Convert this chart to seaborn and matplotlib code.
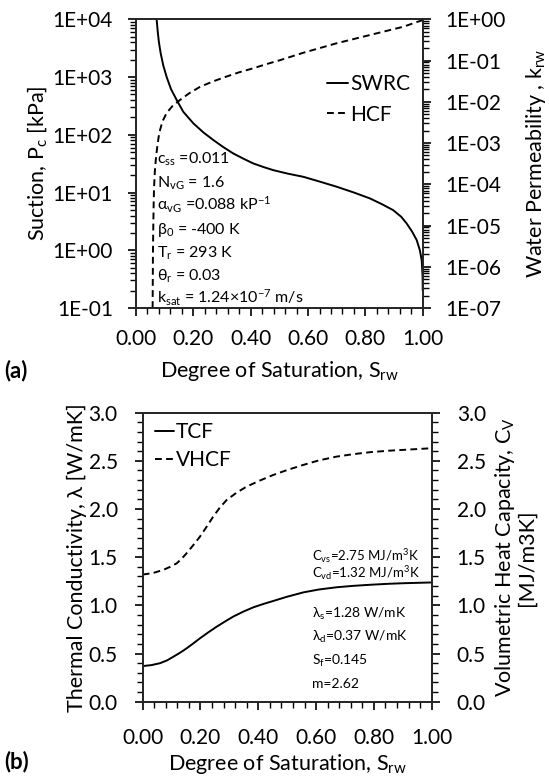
import matplotlib
matplotlib.use("Agg")
import matplotlib.pyplot as plt
import seaborn as sns
import pandas as pd
from matplotlib.ticker import (LogLocator, FuncFormatter, MultipleLocator,
                               FormatStrFormatter, NullFormatter)
from matplotlib.lines import Line2D

# ---- (a) retention curve and hydraulic conductivity ----
swrc_s = [0.072, 0.076, 0.080, 0.086, 0.095, 0.107, 0.122, 0.142, 0.165,
          0.200, 0.235, 0.270, 0.305, 0.339, 0.375, 0.409, 0.445, 0.479,
          0.530, 0.584, 0.640, 0.700, 0.760, 0.816, 0.860, 0.897, 0.925,
          0.944, 0.963, 0.979, 0.990, 0.9965, 0.9995, 1.0]
swrc_pc = [1.0e4, 6000, 4000, 2600, 1600, 1000, 620, 400, 250,
           158, 110, 81, 61, 47.6, 38.5, 31.9, 27.6, 24.4,
           21.2, 18.7, 15.5, 12.6, 10.0, 7.9, 6.2, 4.95, 3.8,
           2.91, 2.1, 1.50, 1.0, 0.67, 0.35, 0.2]

hcf_s = [0.058, 0.059, 0.060, 0.0615, 0.063, 0.066, 0.070, 0.075, 0.081,
         0.092, 0.107, 0.128, 0.153, 0.185, 0.223, 0.270, 0.316, 0.360,
         0.409, 0.455, 0.502, 0.584, 0.700, 0.816, 0.932, 1.0]
hcf_kr = [1.0e-7, 1.5e-6, 6.6e-6, 3.0e-5, 8.5e-5, 2.2e-4, 4.6e-4, 9.0e-4, 1.74e-3,
          3.3e-3, 5.4e-3, 8.0e-3, 1.1e-2, 1.6e-2, 2.3e-2, 3.15e-2, 4.1e-2, 5.2e-2,
          6.5e-2, 8.2e-2, 0.102, 0.155, 0.263, 0.417, 0.66, 0.96]

# ---- (b) thermal conductivity and volumetric heat capacity ----
tcf_s = [0.0, 0.030, 0.060, 0.085, 0.106, 0.130, 0.152, 0.175, 0.198,
         0.227, 0.256, 0.285, 0.313, 0.348, 0.383, 0.418, 0.452, 0.500,
         0.556, 0.610, 0.671, 0.730, 0.787, 0.850, 0.902, 1.0]
tcf_val = [0.37, 0.38, 0.40, 0.43, 0.467, 0.51, 0.554, 0.605, 0.658,
           0.72, 0.779, 0.833, 0.883, 0.935, 0.980, 1.015, 1.046, 1.09,
           1.135, 1.165, 1.188, 1.203, 1.214, 1.224, 1.230, 1.238]

vhcf_s = [0.0, 0.035, 0.071, 0.095, 0.118, 0.135, 0.152, 0.175, 0.198,
          0.221, 0.244, 0.267, 0.291, 0.325, 0.360, 0.405, 0.452, 0.500,
          0.556, 0.610, 0.671, 0.730, 0.787, 0.850, 0.902, 1.0]
vhcf_val = [1.32, 1.335, 1.368, 1.40, 1.437, 1.485, 1.541, 1.625, 1.713,
            1.815, 1.921, 2.015, 2.095, 2.17, 2.233, 2.295, 2.354, 2.405,
            2.458, 2.505, 2.544, 2.570, 2.590, 2.605, 2.614, 2.631]

sns.set_style("ticks")
plt.rcParams["font.family"] = ["Lato", "DejaVu Sans"]
plt.rcParams["mathtext.fontset"] = "custom"
plt.rcParams["mathtext.rm"] = "Lato"
plt.rcParams["mathtext.it"] = "Lato:italic"
plt.rcParams["mathtext.bf"] = "Lato:bold"
plt.rcParams["mathtext.default"] = "regular"
plt.rcParams["axes.linewidth"] = 1.3
for key in ("text.color", "axes.labelcolor", "xtick.color", "ytick.color"):
    plt.rcParams[key] = "black"

FS = 15.5     # axis titles
LFS = 15      # legend
TFS = 15      # tick labels
ANN_A = 11.5  # parameter notes, panel (a)
ANN_B = 9.5   # parameter notes, panel (b)
LW = 1.4
DASH = (0, (3.5, 2.2))

fig = plt.figure(figsize=(5.49, 7.76), dpi=100)
ax_a = fig.add_axes([0.2477, 0.6031, 0.5223, 0.3720])
ax_b = fig.add_axes([0.2599, 0.0957, 0.5264, 0.3725])


def style_ticks(ax, ypad, xpad=None):
    ax.tick_params(axis="y", which="major", direction="out", length=6,
                   width=1.2, labelsize=TFS, pad=ypad)
    ax.tick_params(axis="y", which="minor", direction="out", length=4,
                   width=1.0)
    if xpad is not None:
        ax.tick_params(axis="x", which="major", direction="out", length=6,
                       width=1.2, labelsize=TFS, pad=xpad)
        ax.tick_params(axis="x", which="minor", direction="out", length=4,
                       width=1.0)


# ---------------- panel (a) ----------------
df_swrc = pd.DataFrame({"S": swrc_s, "Pc": swrc_pc})
df_hcf = pd.DataFrame({"S": hcf_s, "kr": hcf_kr})

sns.lineplot(data=df_swrc, x="S", y="Pc", ax=ax_a, color="black", lw=LW,
             estimator=None, sort=False)
ax_a.set_yscale("log")
ax_a.set_ylim(0.1, 1.0e4)
ax_a.set_xlim(0, 1)
ax_a.xaxis.set_major_locator(MultipleLocator(0.2))
ax_a.xaxis.set_minor_locator(MultipleLocator(0.04))
ax_a.xaxis.set_major_formatter(FormatStrFormatter("%.2f"))
ax_a.yaxis.set_major_locator(LogLocator(base=10, numticks=20))
ax_a.yaxis.set_minor_locator(LogLocator(base=10, subs=range(2, 10), numticks=100))
ax_a.yaxis.set_minor_formatter(NullFormatter())
ax_a.yaxis.set_major_formatter(FuncFormatter(lambda v, p: f"{v:.0E}"))
style_ticks(ax_a, ypad=10.5, xpad=9)
ax_a.set_xlabel("Degree of Saturation, S$_{rw}$", fontsize=FS, labelpad=7)
ax_a.set_ylabel("Suction, P$_{c}$ [kPa]", fontsize=FS, labelpad=3)

ax_a2 = ax_a.twinx()
sns.lineplot(data=df_hcf, x="S", y="kr", ax=ax_a2, color="black", lw=LW,
             linestyle=DASH, estimator=None, sort=False)
ax_a2.set_yscale("log")
ax_a2.set_ylim(1.0e-7, 1.0)
ax_a2.yaxis.set_major_locator(LogLocator(base=10, numticks=20))
ax_a2.yaxis.set_minor_locator(LogLocator(base=10, subs=range(2, 10), numticks=100))
ax_a2.yaxis.set_minor_formatter(NullFormatter())
ax_a2.yaxis.set_major_formatter(FuncFormatter(lambda v, p: f"{v:.0E}"))
style_ticks(ax_a2, ypad=10.5)
ax_a2.set_ylabel("Water Permeability , k$_{rw}$", fontsize=FS, labelpad=13)

handles_a = [Line2D([], [], color="black", lw=LW),
             Line2D([], [], color="black", lw=LW, linestyle=DASH)]
ax_a.legend(handles_a, ["SWRC", "HCF"], loc="upper left",
            bbox_to_anchor=(0.667, 0.81), frameon=False, fontsize=LFS,
            handlelength=1.0, handletextpad=0.1, borderpad=0,
            borderaxespad=0, labelspacing=0.5)

params_a = ["c$_{ss}$ =0.011",
            "N$_{vG}$ = 1.6",
            "α$_{vG}$ =0.088 kP$^{-1}$",
            "β$_{0}$ = -400 K",
            "T$_{r}$ = 293 K",
            "θ$_{r}$ = 0.03",
            "k$_{sat}$ = 1.24×10$^{-7}$ m/s"]
for i, txt in enumerate(params_a):
    ax_a.text(0.075, (308 - (164 + 23.3 * i)) / 288.7, txt,
              transform=ax_a.transAxes, fontsize=ANN_A, va="baseline", ha="left")

fig.text(0.008, 1 - 371 / 776, "(a)", fontsize=FS + 0.5, fontweight="bold",
         va="center", ha="left")

# ---------------- panel (b) ----------------
df_tcf = pd.DataFrame({"S": tcf_s, "val": tcf_val})
df_vhcf = pd.DataFrame({"S": vhcf_s, "val": vhcf_val})

sns.lineplot(data=df_tcf, x="S", y="val", ax=ax_b, color="black", lw=LW,
             estimator=None, sort=False)
ax_b.set_xlim(0, 1)
ax_b.set_ylim(0, 3.0)
ax_b.xaxis.set_major_locator(MultipleLocator(0.2))
ax_b.xaxis.set_minor_locator(MultipleLocator(0.04))
ax_b.xaxis.set_major_formatter(FormatStrFormatter("%.2f"))
ax_b.yaxis.set_major_locator(MultipleLocator(0.5))
ax_b.yaxis.set_minor_locator(MultipleLocator(0.1))
ax_b.yaxis.set_major_formatter(FormatStrFormatter("%.1f"))
style_ticks(ax_b, ypad=12, xpad=13)
ax_b.set_xlabel("Degree of Saturation, S$_{rw}$", fontsize=FS, labelpad=3)
ax_b.set_ylabel("Thermal Conductivity, λ [W/mK]", fontsize=FS, labelpad=1)

ax_b2 = ax_b.twinx()
sns.lineplot(data=df_vhcf, x="S", y="val", ax=ax_b2, color="black", lw=LW,
             linestyle=DASH, estimator=None, sort=False)
ax_b2.set_ylim(0, 3.0)
ax_b2.yaxis.set_major_locator(MultipleLocator(0.5))
ax_b2.yaxis.set_minor_locator(MultipleLocator(0.1))
ax_b2.yaxis.set_major_formatter(FormatStrFormatter("%.1f"))
style_ticks(ax_b2, ypad=12)
ax_b2.set_ylabel("Volumetric Heat Capacity, C$_{V}$\n[MJ/m3K]", fontsize=FS,
                 labelpad=5, linespacing=1.0)

handles_b = [Line2D([], [], color="black", lw=LW),
             Line2D([], [], color="black", lw=LW, linestyle=DASH)]
ax_b.legend(handles_b, ["TCF", "VHCF"], loc="upper left",
            bbox_to_anchor=(0.043, 0.968), frameon=False, fontsize=LFS,
            handlelength=0.9, handletextpad=0.1, borderpad=0,
            borderaxespad=0, labelspacing=0.38)

params_b_c = ["C$_{vs}$=2.75 MJ/m$^{3}$K", "C$_{vd}$=1.32 MJ/m$^{3}$K"]
params_b_l = ["λ$_{s}$=1.28 W/mK", "λ$_{d}$=0.37 W/mK", "S$_{f}$=0.145", "m=2.62"]
for i, txt in enumerate(params_b_c):
    ax_b.text(0.586, (701.7 - (561 + 17 * i)) / 289, txt,
              transform=ax_b.transAxes, fontsize=ANN_B, va="baseline", ha="left")
for i, txt in enumerate(params_b_l):
    ax_b.text(0.586, (701.7 - (618 + 23.3 * i)) / 289, txt,
              transform=ax_b.transAxes, fontsize=ANN_B + 0.5, va="baseline", ha="left")

fig.text(0.008, 1 - 762 / 776, "(b)", fontsize=FS + 0.5, fontweight="bold",
         va="center", ha="left")

fig.savefig("out.png", dpi=100)
